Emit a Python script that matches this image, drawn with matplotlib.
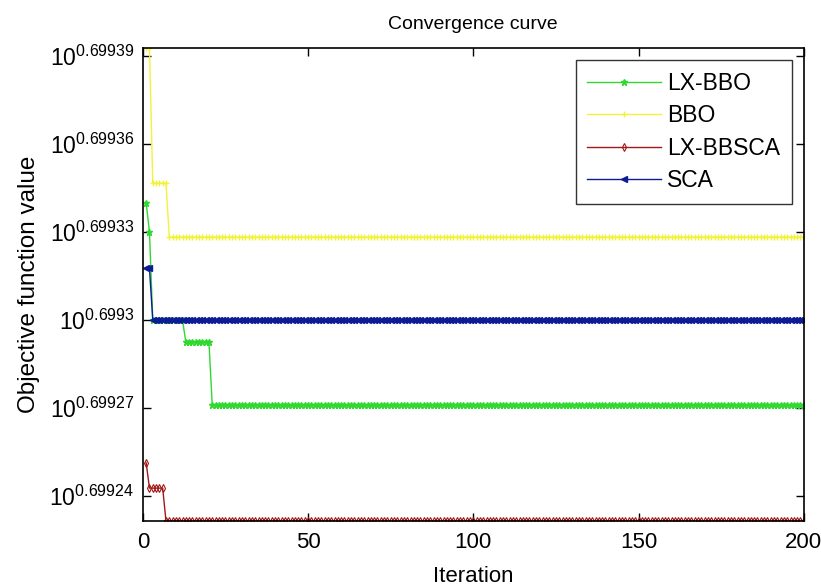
import numpy as np
import matplotlib.pyplot as plt

plt.rcParams['font.family'] = ['Liberation Sans', 'DejaVu Sans']
plt.rcParams['mathtext.fontset'] = 'custom'
plt.rcParams['mathtext.rm'] = 'Liberation Sans'
plt.rcParams['mathtext.it'] = 'Liberation Sans'

# log10 of the objective function value
iters = np.arange(1, 201)

lxbbo_steps = [(1, 0.699340), (2, 0.699330), (12, 0.699300), (20, 0.6992925), (200, 0.699271)]
bbo_steps = [(2, 0.6993927), (7, 0.6993467), (200, 0.6993283)]
lxbbsca_steps = [(1, 0.6992513), (6, 0.6992427), (200, 0.6992315)]
sca_steps = [(2, 0.6993177), (200, 0.6993000)]

yticks_exp = [0.69924, 0.69927, 0.6993, 0.69933, 0.69936, 0.69939]
ytick_labels = ["0.69924", "0.69927", "0.6993", "0.69933", "0.69936", "0.69939"]


def expand(steps):
    # each (last iteration, value) holds until that iteration
    out = []
    start = 1
    for end, v in steps:
        out += [v] * (end - start + 1)
        start = end + 1
    return 10 ** np.array(out)


lxbbo = expand(lxbbo_steps)
bbo = expand(bbo_steps)
lxbbsca = expand(lxbbsca_steps)
sca = expand(sca_steps)

fig = plt.figure(figsize=(8.21, 5.88), dpi=100)
ax = fig.add_axes([0.174, 0.114, 0.805, 0.804])

ax.plot(iters, lxbbo, color='#30d830', marker='*', markersize=5, lw=1, label='LX-BBO')
ax.plot(iters, bbo, color='#f2f23a', marker='+', markersize=4, lw=1, label='BBO')
ax.plot(iters, lxbbsca, color='#a01818', marker='d', markersize=4, mfc='none', mew=0.8, lw=1,
        label='LX-BBSCA')
ax.plot(iters, sca, color='#0c1c96', marker='<', markersize=4, lw=1, label='SCA')

ax.set_yscale('log')
ax.set_xlim(0, 200)
ax.set_ylim(lxbbsca.min(), bbo.max())
ax.set_xticks([0, 50, 100, 150, 200])
ax.set_yticks(10 ** np.array(yticks_exp))
ax.set_yticklabels([r'$10^{%s}$' % t for t in ytick_labels])
ax.yaxis.set_minor_locator(plt.NullLocator())
ax.tick_params(direction='in', length=6, width=1, top=True, right=True)
ax.tick_params(axis='x', labelsize=16, pad=8)
ax.tick_params(axis='y', labelsize=16.5, pad=6)
for s in ax.spines.values():
    s.set_linewidth(1.2)

ax.set_xlabel('Iteration', fontsize=16, labelpad=9)
ax.set_ylabel('Objective function value', fontsize=17.5, labelpad=7)
ax.set_title('Convergence curve', fontsize=14, pad=14)

leg = ax.legend(loc='upper right', fontsize=16.5, frameon=True, fancybox=False,
                edgecolor='black', handlelength=3.2, handletextpad=0.3,
                borderaxespad=0.52, borderpad=0.5, labelspacing=0.42)
leg.get_frame().set_linewidth(1.0)

fig.savefig('out.png', dpi=100)
